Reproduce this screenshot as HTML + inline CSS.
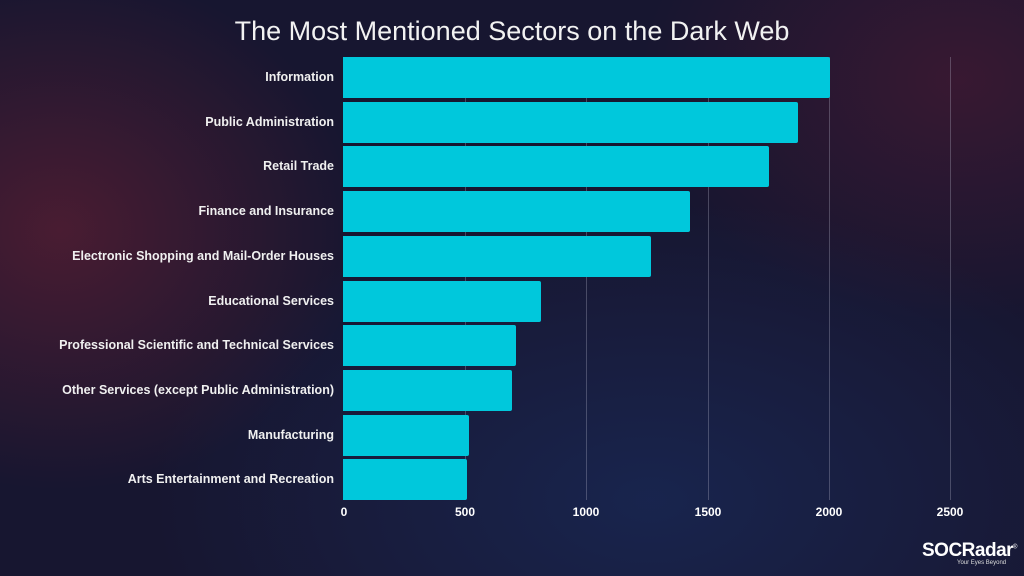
<!DOCTYPE html>
<html><head><style>
html,body{margin:0;padding:0}
body{width:1024px;height:576px;overflow:hidden;position:relative;font-family:"Liberation Sans",sans-serif;
background:
radial-gradient(ellipse 300px 260px at 60px 230px,rgba(90,30,50,0.75),rgba(90,30,50,0) 100%),
radial-gradient(ellipse 320px 240px at 960px 80px,rgba(70,25,50,0.7),rgba(70,25,50,0) 100%),
radial-gradient(ellipse 500px 300px at 650px 500px,rgba(25,40,85,0.8),rgba(25,40,85,0) 100%),
#171630;}
.title{position:absolute;left:0;width:1024px;top:16px;text-align:center;color:#f2f2f2;font-size:27px;}
.grid{position:absolute;top:57px;height:443px;width:1px;background:rgba(190,190,210,0.3)}
.bar{position:absolute;left:343px;height:41px;background:#00c8dc;border-radius:0 2px 2px 0}
.lab{position:absolute;right:690px;color:#f0f0f0;font-weight:bold;font-size:12.5px;white-space:nowrap;line-height:41px}
.tick{position:absolute;top:505px;color:#fff;font-weight:bold;font-size:12px;transform:translateX(-50%)}
</style></head><body>
<div class="title">The Most Mentioned Sectors on the Dark Web</div>
<div class="grid" style="left:465px"></div>
<div class="grid" style="left:586px"></div>
<div class="grid" style="left:708px"></div>
<div class="grid" style="left:829px"></div>
<div class="grid" style="left:950px"></div>
<div class="bar" style="top:57px;width:487px"></div><div class="lab" style="top:57px">Information</div>
<div class="bar" style="top:102px;width:455px"></div><div class="lab" style="top:102px">Public Administration</div>
<div class="bar" style="top:146px;width:426px"></div><div class="lab" style="top:146px">Retail Trade</div>
<div class="bar" style="top:191px;width:347px"></div><div class="lab" style="top:191px">Finance and Insurance</div>
<div class="bar" style="top:236px;width:308px"></div><div class="lab" style="top:236px">Electronic Shopping and Mail-Order Houses</div>
<div class="bar" style="top:281px;width:198px"></div><div class="lab" style="top:281px">Educational Services</div>
<div class="bar" style="top:325px;width:173px"></div><div class="lab" style="top:325px">Professional Scientific and Technical Services</div>
<div class="bar" style="top:370px;width:169px"></div><div class="lab" style="top:370px">Other Services (except Public Administration)</div>
<div class="bar" style="top:415px;width:126px"></div><div class="lab" style="top:415px">Manufacturing</div>
<div class="bar" style="top:459px;width:124px"></div><div class="lab" style="top:459px">Arts Entertainment and Recreation</div>
<div class="tick" style="left:344px">0</div>
<div class="tick" style="left:465px">500</div>
<div class="tick" style="left:586px">1000</div>
<div class="tick" style="left:708px">1500</div>
<div class="tick" style="left:829px">2000</div>
<div class="tick" style="left:950px">2500</div>
<div style="position:absolute;left:922px;top:540px;color:#fff;font-weight:bold;font-size:19px;letter-spacing:-0.5px">SOCRadar<sup style="font-size:6px;font-weight:normal">®</sup></div>
<div style="position:absolute;left:957px;top:560px;color:#ddd;font-size:6px">Your Eyes Beyond</div>
</body></html>
